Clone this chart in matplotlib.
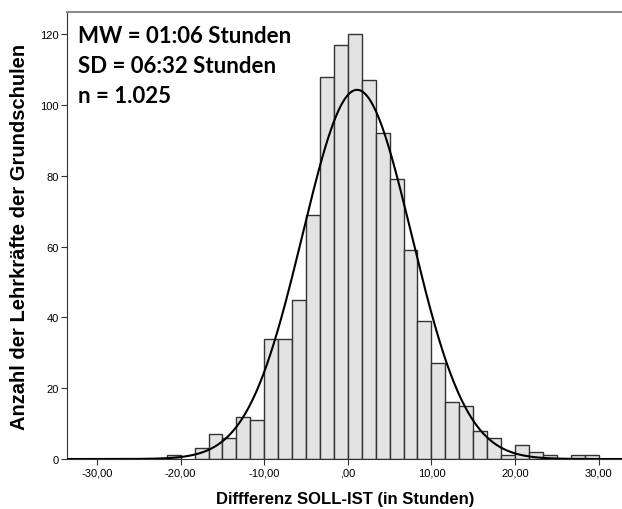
import matplotlib
matplotlib.use("Agg")
import matplotlib.pyplot as plt
import numpy as np

# histogram bins are 1/6 of 10 h wide, first bin starts at -21.67 h
bin_width = 10 / 6
bin_starts = np.arange(-13, 18) * bin_width
counts = [1, 0, 3, 7, 6, 12, 11, 34, 34, 45, 69, 108, 117,
          120, 107, 92, 79, 59, 39, 27, 16, 15, 8, 6, 1, 4, 2, 1, 0, 1, 1]

mean_h = 1 + 6 / 60
sd_h = 6 + 32 / 60
n = 1025

x_ticks = [-30, -20, -10, 0, 10, 20, 30]
x_tick_labels = ["-30,00", "-20,00", "-10,00", ",00", "10,00", "20,00", "30,00"]
y_ticks = [0, 20, 40, 60, 80, 100, 120]

stats_lines = ["MW = 01:06 Stunden", "SD = 06:32 Stunden", "n = 1.025"]

fig = plt.figure(figsize=(6.22, 5.10), dpi=100)
ax = fig.add_axes([0.1077, 0.098, 0.895, 0.8765])

starts = [s for s, c in zip(bin_starts, counts) if c > 0]
heights = [c for c in counts if c > 0]
ax.bar(starts, heights, width=bin_width, align="edge",
       color="#e3e3e3", edgecolor="#333333", linewidth=1.0, zorder=2)

xs = np.linspace(-34, 33, 600)
curve = n * bin_width / (sd_h * np.sqrt(2 * np.pi)) * np.exp(-0.5 * ((xs - mean_h) / sd_h) ** 2)
ax.plot(xs, curve, color="black", linewidth=1.5, zorder=3)

ax.set_xlim(-33.6, 33.0)
ax.set_ylim(0, 126.3)
ax.set_xticks(x_ticks)
ax.set_xticklabels(x_tick_labels)
ax.set_yticks(y_ticks)
ax.tick_params(axis="both", direction="out", length=4, width=0.8, color="#333333",
               labelsize=8, pad=2)
for lab in ax.get_xticklabels() + ax.get_yticklabels():
    lab.set_fontfamily("Liberation Sans")

ax.spines["right"].set_visible(False)
ax.spines["top"].set_color("#8c8c8c")
ax.spines["top"].set_linewidth(1.5)
ax.spines["left"].set_color("#333333")
ax.spines["bottom"].set_color("#333333")

ax.set_ylabel("Anzahl der Lehrkräfte der Grundschulen", fontsize=14.5, fontweight="bold",
              fontfamily="Liberation Sans")
ax.yaxis.set_label_coords(-0.069, 0.50)
ax.set_xlabel("Diffferenz SOLL-IST (in Stunden)", fontsize=12, fontweight="bold",
              fontfamily="Liberation Sans", labelpad=10)

for i, line in enumerate(stats_lines):
    fig.text(78 / 622, 1 - (26 + 30 * i) / 510, line, fontsize=16, fontweight="bold",
             fontfamily="Lato", va="top", ha="left")

fig.savefig("out.png", dpi=100)
